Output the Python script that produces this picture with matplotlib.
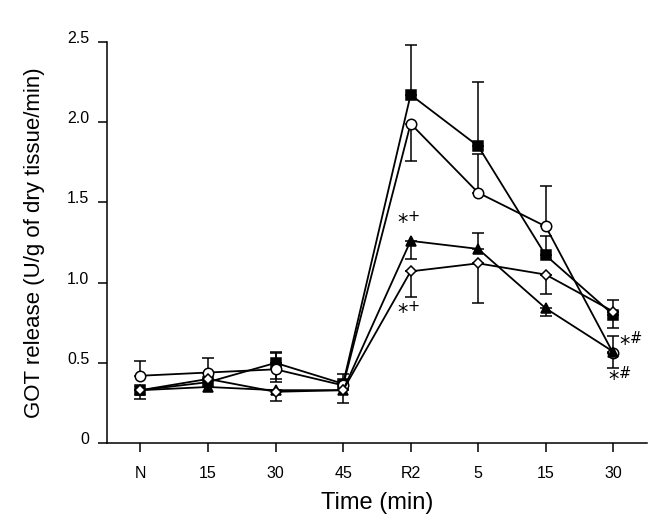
import numpy as np
import matplotlib
matplotlib.use("Agg")
import matplotlib.pyplot as plt
import matplotlib.transforms as mtransforms

plt.rcParams['font.family'] = ['Liberation Sans', 'DejaVu Sans']

time_labels = ["N", "15", "30", "45", "R2", "5", "15", "30"]

circle = [0.42, 0.44, 0.46, 0.36, 1.99, 1.56, 1.35, 0.56]
circle_lo = [0.00, 0.00, 0.08, 0.00, 0.23, 0.00, 0.00, 0.09]
circle_hi = [0.09, 0.09, 0.10, 0.00, 0.00, 0.24, 0.25, 0.00]

square = [0.33, 0.38, 0.50, 0.37, 2.17, 1.85, 1.17, 0.80]
square_lo = [0.055, 0.00, 0.10, 0.00, 0.00, 0.00, 0.00, 0.08]
square_hi = [0.00, 0.00, 0.07, 0.06, 0.31, 0.40, 0.12, 0.00]

triangle = [0.33, 0.35, 0.33, 0.33, 1.26, 1.21, 0.84, 0.57]
triangle_lo = [0.00, 0.00, 0.07, 0.08, 0.11, 0.00, 0.05, 0.00]
triangle_hi = [0.00, 0.00, 0.00, 0.00, 0.00, 0.10, 0.00, 0.10]

diamond = [0.33, 0.40, 0.32, 0.33, 1.07, 1.12, 1.05, 0.82]
diamond_lo = [0.00, 0.00, 0.00, 0.00, 0.16, 0.25, 0.12, 0.00]
diamond_hi = [0.00, 0.00, 0.00, 0.00, 0.00, 0.00, 0.00, 0.07]

fig = plt.figure(figsize=(6.67, 5.22), dpi=100)
ax = fig.add_axes([0.16, 0.151, 0.81, 0.769])

x = np.arange(len(time_labels))

series = [
    (square, square_lo, square_hi, dict(marker='s', mfc='black', ms=7)),
    (circle, circle_lo, circle_hi, dict(marker='o', mfc='white', ms=7.5)),
    (triangle, triangle_lo, triangle_hi, dict(marker='^', mfc='black', ms=7.5)),
    (diamond, diamond_lo, diamond_hi, dict(marker='D', mfc='white', ms=5.5)),
]

for y, lo, hi, st in series:
    y = np.array(y); lo = np.array(lo); hi = np.array(hi)
    m = lo > 0
    if m.any():
        ax.errorbar(x[m], y[m], yerr=[lo[m], np.zeros(m.sum())], fmt='none',
                    ecolor='black', elinewidth=1.1, capsize=4, capthick=1.1, zorder=2)
    m = hi > 0
    if m.any():
        ax.errorbar(x[m], y[m], yerr=[np.zeros(m.sum()), hi[m]], fmt='none',
                    ecolor='black', elinewidth=1.1, capsize=4, capthick=1.1, zorder=2)
    ax.plot(x, y, color='black', lw=1.3, mec='black', mew=1.1, zorder=3, **st)

ax.set_xlim(-0.5, 7.5)
ax.set_ylim(0, 2.5)
ax.set_xticks(x)
ax.set_xticklabels(time_labels)
ax.set_yticks([0, 0.5, 1.0, 1.5, 2.0, 2.5])
ax.set_yticklabels(["0", "0.5", "1.0", "1.5", "2.0", "2.5"])
for s in ['top', 'right']:
    ax.spines[s].set_visible(False)
for s in ['left', 'bottom']:
    ax.spines[s].set_linewidth(1.1)
ax.tick_params(axis='both', direction='out', length=6.5, width=1.1, labelsize=11.5, colors='black')
ax.tick_params(axis='x', pad=10)
ax.tick_params(axis='y', pad=6)
offset = mtransforms.ScaledTranslation(0, 5 / 100, fig.dpi_scale_trans)
for lbl in ax.get_yticklabels():
    lbl.set_transform(lbl.get_transform() + offset)
ax.set_xlabel("Time (min)", fontsize=17, labelpad=8)
ax.set_ylabel("GOT release (U/g of dry tissue/min)", fontsize=16, labelpad=16)

ann_kw = dict(fontsize=15, color='black', ha='left', va='center')
ax.text(3.8, 1.38, r"$*^{+}$", **ann_kw)
ax.text(3.8, 0.82, r"$*^{+}$", **ann_kw)
ax.text(7.08, 0.62, r"$*^{\#}$", **ann_kw)
ax.text(6.93, 0.40, r"$*^{\#}$", **ann_kw)

fig.savefig("out.png", dpi=100)
